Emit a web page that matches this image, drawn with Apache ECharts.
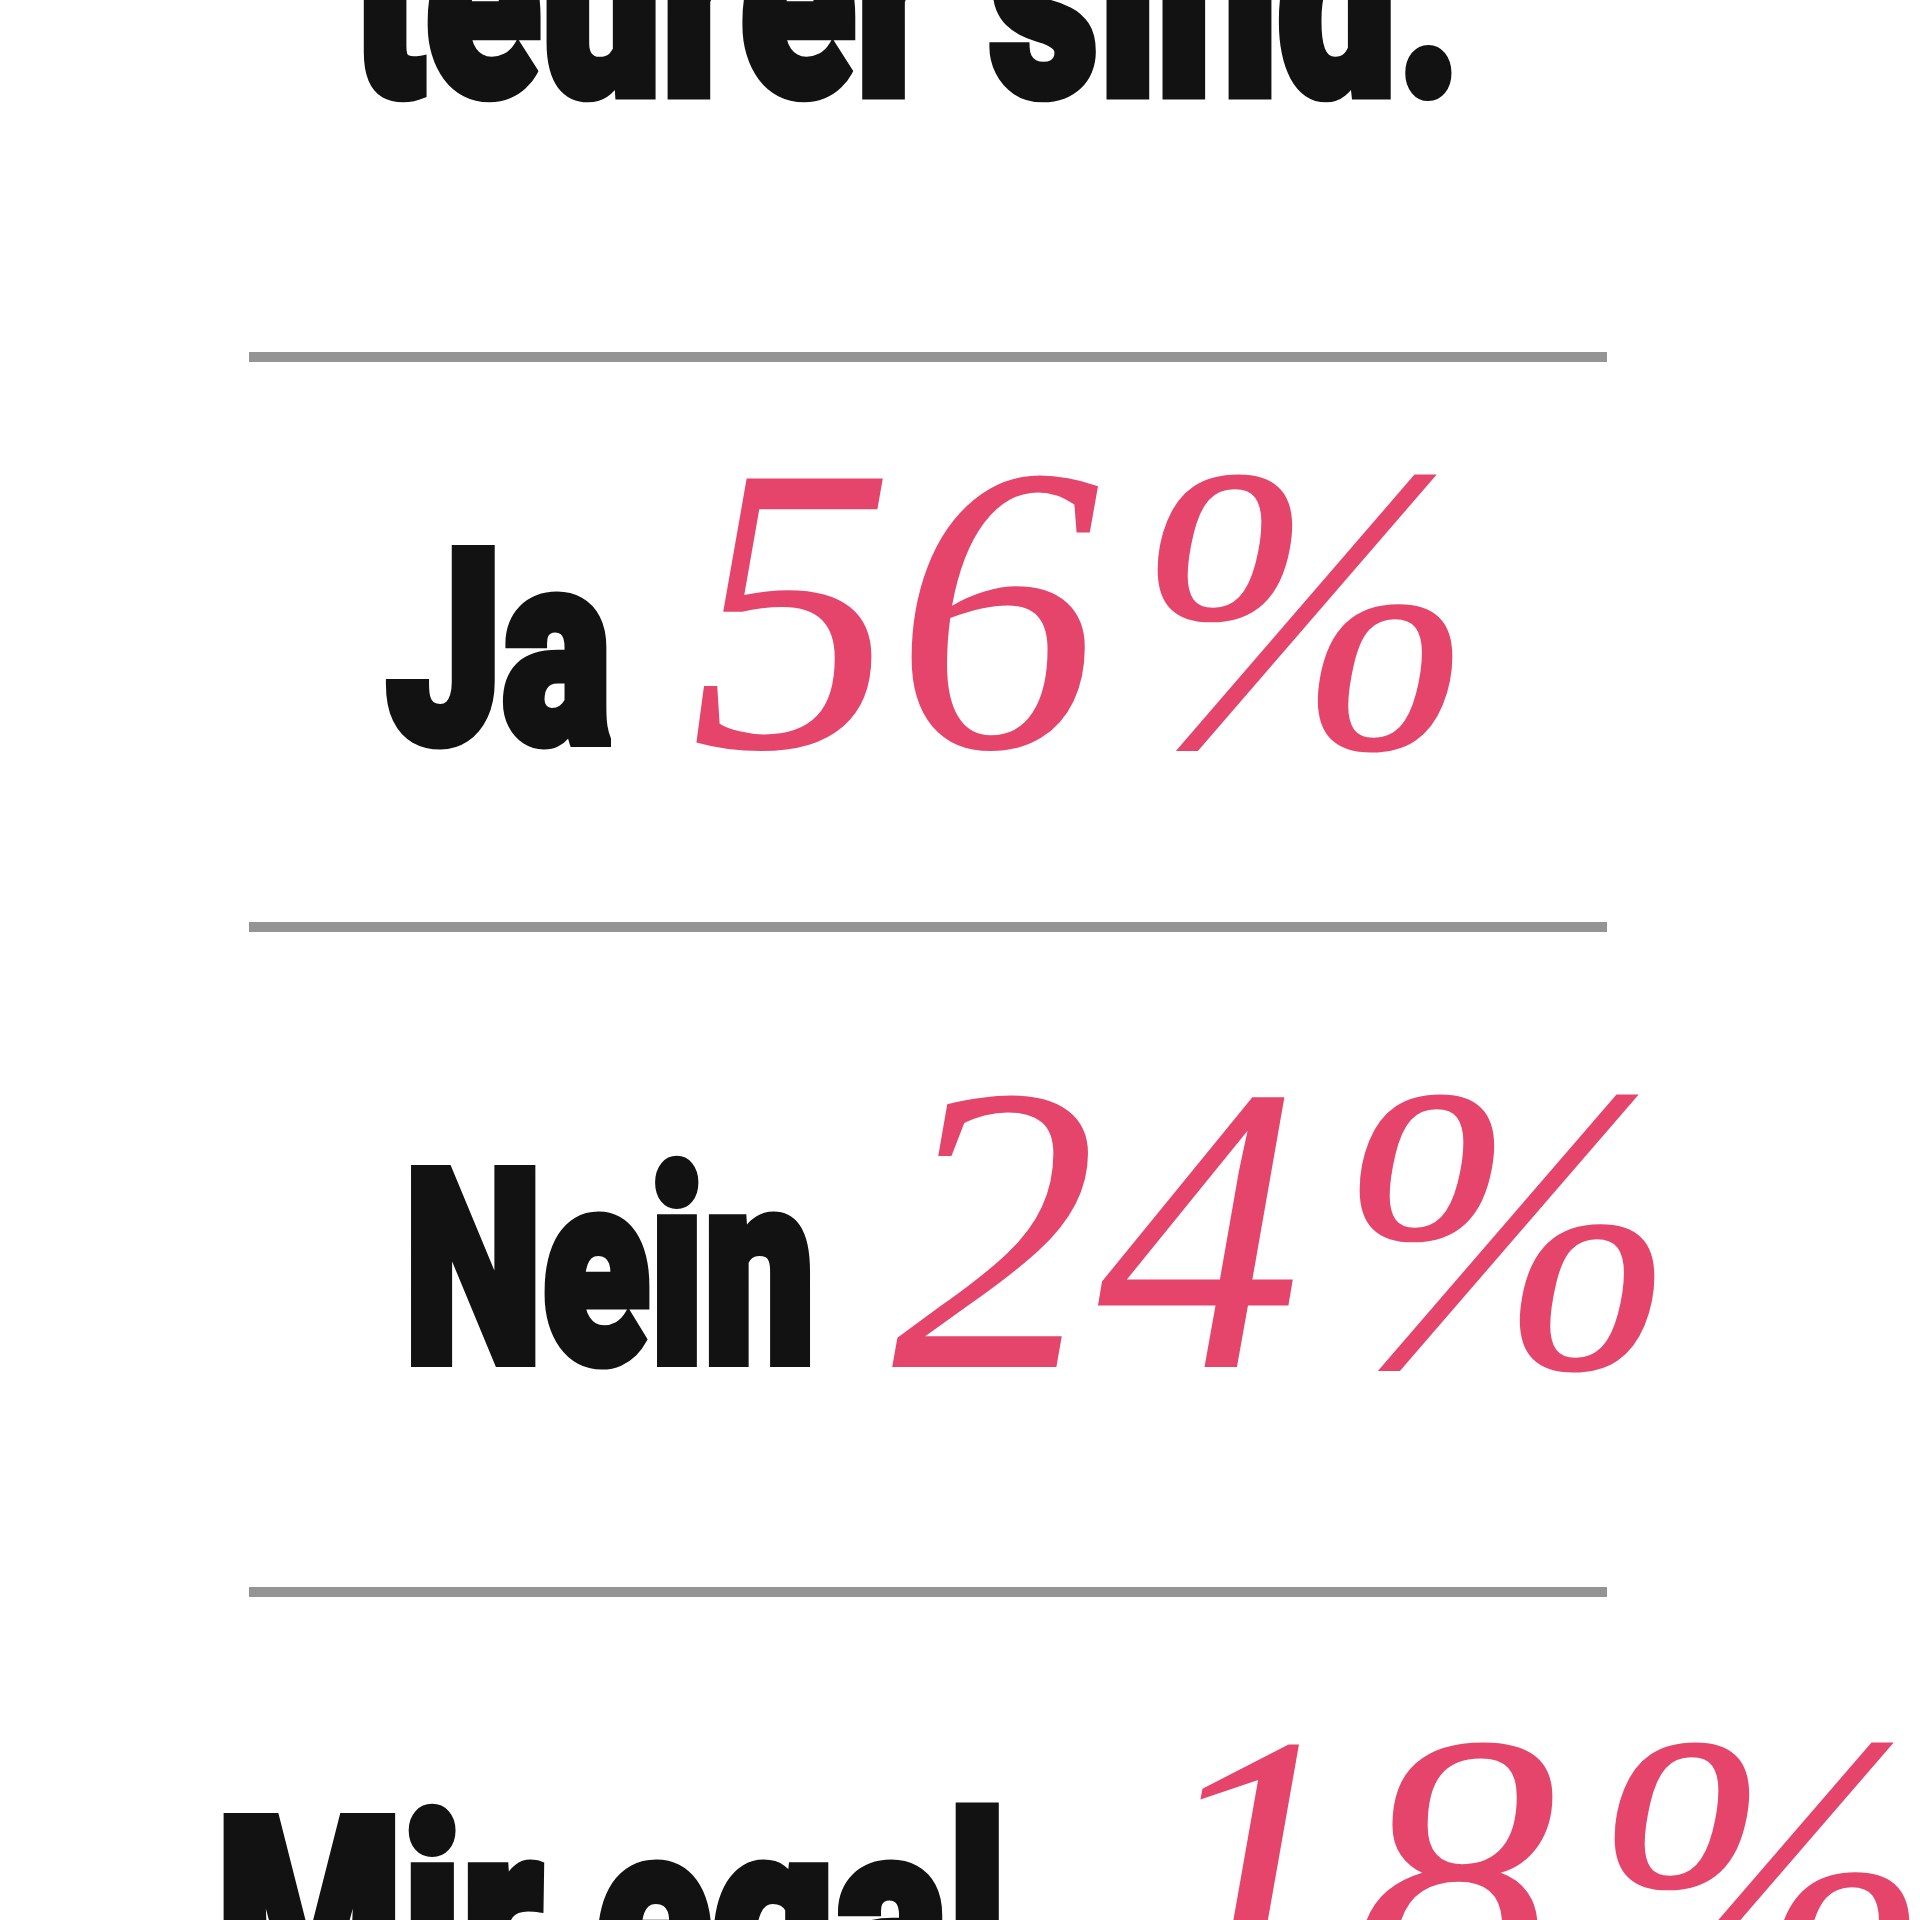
<!DOCTYPE html>
<html><head><meta charset="utf-8">
<script src="https://cdn.jsdelivr.net/npm/echarts@6/dist/echarts.min.js"></script>
<style>html,body{margin:0;padding:0;background:#fff}#c{width:1920px;height:1920px}</style>
</head><body><div id="c"></div>
<script>
// ---- data ----
const categories = ['Ja', 'Nein', 'Mir egal'];
const values = [56, 24, 18];
const valueSuffix = '\u200A%';
const headingText = 'teurer sind.';

// ---- layout (pixels / style) ----
const labelLeft = [386, 404, 216];
const labelScaleX = [0.765, 0.73, 0.79];
const numberLeft = [690, 892, 1147];
const rowShift = [3, -12, 1];
const separatorY = [357, 927, 1592];

const BLACK = '#121212', PINK = '#e6456b', GRAY = '#949494';
const LABEL_FONT = 'Roboto';
const LABEL_FS = 270, NUM_FS = 410, HEAD_FS = 280;
const HEAD_SX = 0.76;
const MID_L = 0.28, MID_N = 0.27;
const STROKE_W = 10;

const chart = echarts.init(document.getElementById('c'), null, {renderer: 'canvas', width: 1920, height: 1920});

const graphics = separatorY.map(y => ({
  type: 'rect', x: 249, y: y - 5, shape: {x: 0, y: 0, width: 1358, height: 10},
  style: {fill: GRAY}, silent: true
}));
graphics.push({
  type: 'text', x: 352, y: 103 - MID_L * HEAD_FS, scaleX: HEAD_SX,
  style: {text: headingText, fill: BLACK, stroke: BLACK, lineWidth: STROKE_W,
    fontSize: HEAD_FS, fontFamily: LABEL_FONT, fontWeight: 900,
    align: 'left', verticalAlign: 'middle'}
});

chart.setOption({
  backgroundColor: '#ffffff',
  animation: false,
  grid: {left: 0, top: 429.5, width: 1920, height: 1905, outerBoundsMode: 'none', containLabel: false},
  xAxis: {type: 'value', min: 0, max: 100, show: false},
  yAxis: {type: 'category', data: categories, inverse: true, show: false},
  graphic: graphics,
  series: [{
    type: 'custom',
    clip: false,
    data: values.map((v, i) => [v, i]),
    renderItem: function (params, api) {
      const i = params.dataIndex;
      const base = api.coord([0, api.value(1)])[1] + rowShift[i];
      return {
        type: 'group',
        children: [
          {type: 'text', x: labelLeft[i], y: base - MID_L * LABEL_FS, scaleX: labelScaleX[i],
            style: {text: categories[i], fill: BLACK, stroke: BLACK, lineWidth: STROKE_W,
              fontSize: LABEL_FS, fontFamily: LABEL_FONT, fontWeight: 900,
              align: 'left', verticalAlign: 'middle'}},
          {type: 'text', x: numberLeft[i], y: base - MID_N * NUM_FS,
            style: {text: api.value(0) + valueSuffix, fill: PINK,
              fontSize: NUM_FS, fontFamily: 'Liberation Serif', fontStyle: 'italic',
              align: 'left', verticalAlign: 'middle'}}
        ]
      };
    }
  }]
});
</script>
</body></html>
